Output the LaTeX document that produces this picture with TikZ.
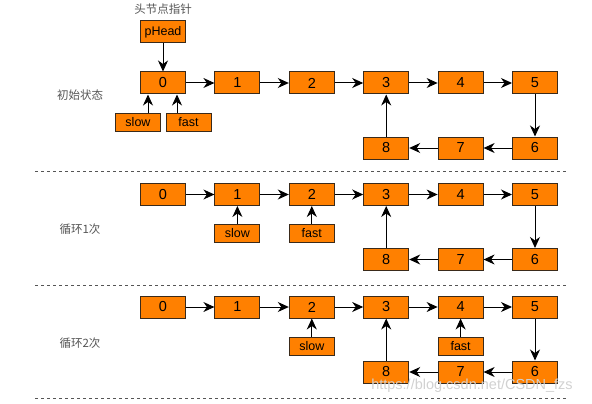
\documentclass[tikz,border=0pt]{standalone}
\usepackage{fontspec}
\setmainfont{Liberation Sans}
\newfontfamily\cjk{Noto Sans CJK SC}
\usepackage{tikz}
\usetikzlibrary{arrows.meta}

\definecolor{boxorange}{HTML}{FF8000}
\definecolor{boxedge}{HTML}{3A2A1A}
\definecolor{labelgray}{HTML}{555555}

\tikzset{
	cell/.style={draw=boxedge, fill=boxorange, line width=1pt, minimum width=45pt, minimum height=22pt, inner sep=0pt, font=\fontsize{14.5}{16}\selectfont},
	ptr/.style={draw=boxedge, fill=boxorange, line width=1pt, minimum width=45pt, minimum height=18pt, inner sep=0pt, font=\fontsize{12.5}{14}\selectfont},
	arr/.style={-{Stealth[length=11pt,width=10pt,inset=3.5pt]}, line width=1pt},
	sep/.style={draw=labelgray, line width=1pt, dash pattern=on 3pt off 3pt},
	note/.style={text=labelgray, font=\cjk\fontsize{11.5}{13}\selectfont}
}

\begin{document}
\begin{tikzpicture}[x=1pt, y=-1pt]
			\useasboundingbox (0,0) rectangle (592,404);
			% initial state
			\node (title) [note] at (163,9){头节点指针};
			\node (head) [ptr, minimum height=22pt] at (163,32){pHead};
			\node (s0) [note] at (80,95){初始状态};
			\node (a0) [cell] at (163,83){0};
			\node (a1) [cell] at (237.4,83){1};
			\node (a2) [cell] at (311.8,83){2};
			\node (a3) [cell] at (386.2,83){3};
			\node (a4) [cell] at (460.6,83){4};
			\node (a5) [cell] at (535,83){5};
			\node (a6) [cell] at (535,148){6};
			\node (a7) [cell] at (460.6,148){7};
			\node (a8) [cell] at (386.2,148){8};
			\node (aslow) [ptr] at (138,122){slow};
			\node (afast) [ptr] at (188.5,122){fast};
			\draw[arr] (head) -- (a0);
			\draw[arr] (a0) -- (a1);
			\draw[arr] (a1) -- (a2);
			\draw[arr] (a2) -- (a3);
			\draw[arr] (a3) -- (a4);
			\draw[arr] (a4) -- (a5);
			\draw[arr] (a5) -- (a6);
			\draw[arr] (a6) -- (a7);
			\draw[arr] (a7) -- (a8);
			\draw[arr] (a8) -- (a3);
			\draw[arr] ([xshift=10pt]aslow.north) -- ([xshift=10pt]aslow.north |- a0.south);
			\draw[arr] ([xshift=-11.5pt]afast.north) -- ([xshift=-11.5pt]afast.north |- a0.south);
			\draw[sep] (35,171) -- (567,171);
			
			% after one loop
			\node (s1) [note] at (80,229){循环1次};
			\node (b0) [cell] at (163,194.5){0};
			\node (b1) [cell] at (237.4,194.5){1};
			\node (b2) [cell] at (311.8,194.5){2};
			\node (b3) [cell] at (386.2,194.5){3};
			\node (b4) [cell] at (460.6,194.5){4};
			\node (b5) [cell] at (535,194.5){5};
			\node (b6) [cell] at (535,259.5){6};
			\node (b7) [cell] at (460.6,259.5){7};
			\node (b8) [cell] at (386.2,259.5){8};
			\node (bslow) [ptr] at (237.4,233){slow};
			\node (bfast) [ptr] at (311.8,233){fast};
			\draw[arr] (b0) -- (b1);
			\draw[arr] (b1) -- (b2);
			\draw[arr] (b2) -- (b3);
			\draw[arr] (b3) -- (b4);
			\draw[arr] (b4) -- (b5);
			\draw[arr] (b5) -- (b6);
			\draw[arr] (b6) -- (b7);
			\draw[arr] (b7) -- (b8);
			\draw[arr] (b8) -- (b3);
			\draw[arr] (bslow) -- (b1);
			\draw[arr] (bfast) -- (b2);
			\draw[sep] (35,285) -- (567,285);
			
			% after two loops
			\node (s2) [note] at (80,343){循环2次};
			\node (c0) [cell] at (163,307){0};
			\node (c1) [cell] at (237.4,307){1};
			\node (c2) [cell] at (311.8,307){2};
			\node (c3) [cell] at (386.2,307){3};
			\node (c4) [cell] at (460.6,307){4};
			\node (c5) [cell] at (535,307){5};
			\node (c6) [cell] at (535,372){6};
			\node (c7) [cell] at (460.6,372){7};
			\node (c8) [cell] at (386.2,372){8};
			\node (cslow) [ptr] at (311.8,346){slow};
			\node (cfast) [ptr] at (460.6,346){fast};
			\draw[arr] (c0) -- (c1);
			\draw[arr] (c1) -- (c2);
			\draw[arr] (c2) -- (c3);
			\draw[arr] (c3) -- (c4);
			\draw[arr] (c4) -- (c5);
			\draw[arr] (c5) -- (c6);
			\draw[arr] (c6) -- (c7);
			\draw[arr] (c7) -- (c8);
			\draw[arr] (c8) -- (c3);
			\draw[arr] (cslow) -- (c2);
			\draw[arr] (cfast) -- (c4);
			\draw[sep] (35,398) -- (567,398);
			
			\node (mark) [text=black!18, font=\fontsize{14.5}{16}\selectfont] at (472,386){https://blog.csdn.net/CSDN\_fzs};
		\end{tikzpicture}
\end{document}
